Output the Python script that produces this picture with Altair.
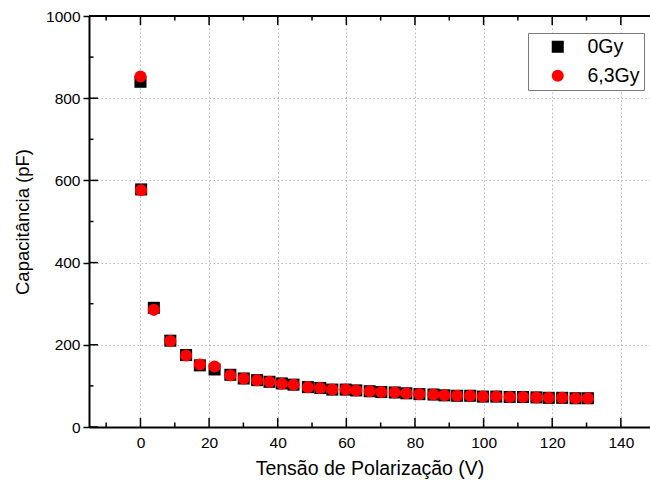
import altair as alt
import pandas as pd

# ---- data ----
voltage = [0, 0.2, 3.9, 8.7, 13.3, 17.3, 21.6, 26.2, 30.1, 34.0, 37.6, 41.2,
           44.6, 48.8, 52.4, 55.9, 59.8, 62.9, 66.8, 70.2, 74.1, 77.5, 81.3,
           85.4, 88.6, 92.3, 96.1, 99.8, 103.7, 107.6, 111.5, 115.4, 119.0,
           122.9, 126.8, 130.4]
cap_0gy = [840, 578, 290, 210, 175, 150, 140, 127, 118, 114, 110, 106,
           103, 97, 95, 91, 91, 89, 87, 85, 84, 82, 80, 79,
           77, 76, 76, 74, 74, 73, 73, 72, 71, 71, 70, 70]
cap_63gy = [853, 576, 285, 209, 174, 152, 147, 126, 118, 114, 110, 105,
            103, 97, 95, 91, 91, 89, 87, 85, 84, 82, 80, 79,
            77, 76, 76, 74, 74, 73, 73, 72, 71, 71, 70, 70]
series_names = ["0Gy", "6,3Gy"]

x_major = [0, 20, 40, 60, 80, 100, 120, 140]
x_minor = [-10, 10, 30, 50, 70, 90, 110, 130]
y_major = [0, 200, 400, 600, 800, 1000]
y_minor = [100, 300, 500, 700, 900]

W, H = 561, 411
FONT = "Liberation Sans"

n = len(voltage)
df = pd.DataFrame({
    "V": voltage + voltage,
    "C": cap_0gy + cap_63gy,
    "s": [series_names[0]] * n + [series_names[1]] * n,
})

xs = alt.Scale(domain=[-15, 148.5], nice=False, zero=False)
ys = alt.Scale(domain=[0, 1000], nice=False, zero=False)

x_axis = alt.Axis(
    values=x_major, format="d", title="Tensão de Polarização (V)", grid=True,
    gridDash=[1.5, 2.5], gridColor="#b8b8b8", gridWidth=1,
    ticks=False, tickSize=0, labelPadding=8, domainWidth=2,
    domainColor="black", labelFont=FONT, labelFontSize=15.5,
    labelColor="black", titleFont=FONT, titleFontSize=19.5,
    titleFontWeight="normal", titleColor="black", titlePadding=9)
y_axis = alt.Axis(
    values=y_major, format="d", title="Capacitância (pF)", grid=True,
    gridDash=[1.5, 2.5], gridColor="#b8b8b8", gridWidth=1,
    ticks=True, tickSize=6, tickWidth=1.5, tickColor="black",
    labelPadding=3, domainWidth=2, domainColor="black",
    labelFont=FONT, labelFontSize=15.5, labelColor="black",
    titleFont=FONT, titleFontSize=18.5, titleFontWeight="normal",
    titleColor="black", titlePadding=13)

legend = alt.Legend(
    orient="none", legendX=439, legendY=17, title=None,
    strokeColor="#7a7a7a", fillColor="white", padding=4,
    symbolOffset=16, labelOffset=20, labelFont=FONT, labelFontSize=19.5,
    labelColor="black", symbolSize=125, rowPadding=8, symbolStrokeWidth=0,
)

points = alt.Chart(df).mark_point(filled=True, opacity=1).encode(
    x=alt.X("V:Q", scale=xs, axis=x_axis),
    y=alt.Y("C:Q", scale=ys, axis=y_axis),
    color=alt.Color("s:N", scale=alt.Scale(domain=series_names, range=["black", "red"]), legend=legend),
    shape=alt.Shape("s:N", scale=alt.Scale(domain=series_names, range=["square", "circle"]), legend=legend),
    size=alt.Size("s:N", scale=alt.Scale(domain=series_names, range=[145, 145]), legend=None),
)

def xticks(vals, y0, y1):
    return alt.Chart(pd.DataFrame({"v": vals})).mark_rule(color="black", strokeWidth=1.5).encode(
        x=alt.X("v:Q", scale=xs, axis=x_axis), y=alt.value(y0), y2=alt.value(y1))

def yticks(vals, length):
    return alt.Chart(pd.DataFrame({"v": vals})).mark_rule(color="black", strokeWidth=1.5).encode(
        y=alt.Y("v:Q", scale=ys, axis=y_axis), x=alt.value(0), x2=alt.value(length))

top_frame = alt.Chart(pd.DataFrame({"a": [0]})).mark_rule(color="black", strokeWidth=2).encode(
    x=alt.value(0), x2=alt.value(W), y=alt.value(0))

chart = alt.layer(
    points,
    xticks(x_major, H, H - 9), xticks(x_minor, H, H - 4.5),
    xticks(x_major, 0, 9), xticks(x_minor, 0, 4.5),
    yticks(y_major, 9), yticks(y_minor, 4.5),
    top_frame,
).properties(
    width=W, height=H,
    padding={"left": 89, "top": 16, "right": 0, "bottom": 61},
    autosize=alt.AutoSizeParams(type="none"),
).configure_view(stroke=None)

chart.save("out.html", embed_options={"renderer": "svg", "actions": False})
